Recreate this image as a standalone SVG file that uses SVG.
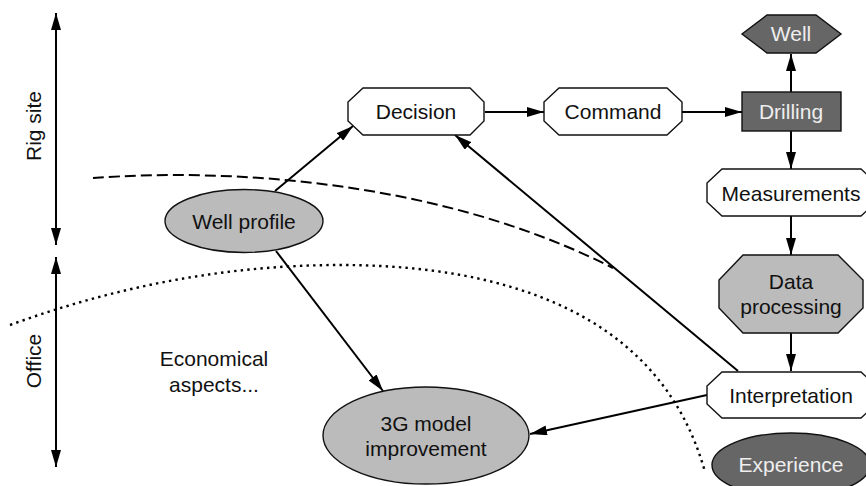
<svg xmlns="http://www.w3.org/2000/svg" width="866" height="486" viewBox="0 0 866 486">
<style>
text{font-family:"Liberation Sans",Arial,sans-serif;font-size:21px;fill:#111;text-anchor:middle}
.lt{fill:#eee}
.w{fill:#fff;stroke:#111;stroke-width:1.4}
.g{fill:#bbb;stroke:#111;stroke-width:1.4}
.d{fill:#666;stroke:#111;stroke-width:1.4}
.c{fill:none;stroke:#000;stroke-width:2}
.a{marker-end:url(#ah)}
.b{marker-start:url(#as);marker-end:url(#ah)}
</style>
<defs>
<marker id="ah" markerUnits="userSpaceOnUse" viewBox="0 0 17 10" refX="17" refY="5" markerWidth="17" markerHeight="10" orient="auto"><path d="M0 0L17 5L0 10z" fill="#000"/></marker>
<marker id="as" markerUnits="userSpaceOnUse" viewBox="0 0 17 10" refX="0" refY="5" markerWidth="17" markerHeight="10" orient="auto"><path d="M17 0L0 5L17 10z" fill="#000"/></marker>
</defs>
<rect width="866" height="486" fill="#fff"/>
<g id="connectors">
<path class="c" d="M93 178C230 168 440 180 613 268" stroke-dasharray="11 5"/>
<path class="c" style="stroke-width:2.4" d="M10 325C120 285 230 265 340 265C500 265 660 310 705 472" stroke-dasharray="2.4 4.2"/>
<path class="c b" d="M56 13V245"/>
<path class="c b" d="M56 257V467"/>
<path class="c a" d="M275 191L353 126"/>
<path class="c a" d="M276 251L383 391"/>
<path class="c a" d="M485 112H544"/>
<path class="c a" d="M682 112H742"/>
<path class="c a" d="M791 92V54"/>
<path class="c a" d="M791 131V169"/>
<path class="c a" d="M791 216V255"/>
<path class="c a" d="M791 333V371"/>
<path class="c a" d="M738 371L455 135"/>
<path class="c a" d="M707 395L530 434"/>
</g>
<g id="well"><path class="d" d="M767 15H816L841 34L816 53H767L742 34Z"/><text class="lt" x="791" y="41">Well</text></g>
<g id="drilling"><rect class="d" x="742" y="92" width="99" height="39"/><text class="lt" x="791" y="119">Drilling</text></g>
<g id="decision"><path class="w" d="M363 88H470L484 102V121L470 135H363L348 121V102Z"/><text x="416" y="119">Decision</text></g>
<g id="command"><path class="w" d="M559 88H667L682 102V121L667 135H559L544 121V102Z"/><text x="613" y="119">Command</text></g>
<g id="measurements"><path class="w" d="M722 169H861L876 183V202L861 216H722L707 202V183Z"/><text x="791" y="201">Measurements</text></g>
<g id="data-processing"><path class="g" d="M743 255H838L863 280V308L838 333H743L719 308V280Z"/><text x="791" y="289">Data</text><text x="791" y="314">processing</text></g>
<g id="interpretation"><path class="w" d="M722 372H861L876 386V404L861 418H722L707 404V386Z"/><text x="791" y="403">Interpretation</text></g>
<g id="experience"><ellipse class="d" cx="791" cy="465" rx="79" ry="32"/><text class="lt" x="791" y="472">Experience</text></g>
<g id="well-profile"><ellipse class="g" cx="244" cy="221" rx="79" ry="31.5"/><text x="244" y="229">Well profile</text></g>
<g id="model"><ellipse class="g" cx="426" cy="435.5" rx="103" ry="48.5"/><text x="426" y="431">3G model</text><text x="426" y="456">improvement</text></g>
<g id="economical"><text x="214" y="366">Economical</text><text x="214" y="392">aspects...</text></g>
<g id="rig-site"><text transform="translate(41 126) rotate(-90)">Rig site</text></g>
<g id="office"><text transform="translate(41 361) rotate(-90)">Office</text></g>
</svg>
